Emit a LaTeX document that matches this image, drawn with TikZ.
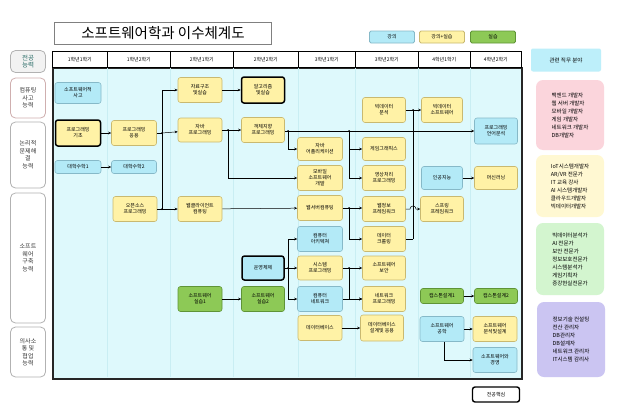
\documentclass[tikz,border=0pt]{standalone}
\usepackage{fontspec}
\setmainfont{Noto Sans CJK KR}
\usetikzlibrary{arrows.meta}
\definecolor{lecF}{HTML}{B3EAF7}
\definecolor{lecD}{HTML}{86B9C8}
\definecolor{labF}{HTML}{FFF2A6}
\definecolor{labD}{HTML}{C9B970}
\definecolor{prF}{HTML}{8DC956}
\definecolor{prD}{HTML}{5F9436}
\definecolor{panelF}{HTML}{DEF9FC}
\definecolor{stripe}{HTML}{C9EEF3}
\definecolor{jobB}{HTML}{BDEFFA}
\definecolor{jobP}{HTML}{FBD5DC}
\definecolor{jobY}{HTML}{FFF8D2}
\definecolor{jobG}{HTML}{D3F5CF}
\definecolor{jobV}{HTML}{CBC5F2}
\definecolor{capT}{HTML}{2E6F6A}
\begin{document}
\begin{tikzpicture}[x=1pt,y=-1pt,
  box/.style={rounded corners=2.5pt, minimum width=44pt, minimum height=25pt, inner sep=0.5pt, align=center, font=\fontsize{5}{6}\selectfont, line width=0.6pt},
  lec/.style={box, fill=lecF, draw=lecD},
  lab/.style={box, fill=labF, draw=labD},
  prac/.style={box, fill=prF, draw=prD},
  core/.style={draw=black, line width=1.5pt},
  arr/.style={-{Stealth[length=3pt,width=2.6pt]}, line width=0.5pt},
  ln/.style={line width=0.5pt},
  hdr/.style={draw=black, line width=0.6pt, fill=white, minimum height=16pt, inner sep=0pt, font=\fontsize{5}{6}\selectfont, anchor=north west},
  abil/.style={draw=gray!60, rounded corners=5pt, line width=0.8pt, fill=white, align=center, inner sep=0pt, minimum width=35pt, font=\fontsize{6}{7.5}\selectfont, text=black!80},
  job/.style={rounded corners=7pt, align=left, inner sep=0pt, minimum width=68pt, font=\fontsize{5.5}{8}\selectfont},
  leg/.style={rounded corners=1.5pt, minimum width=45pt, minimum height=12pt, inner sep=0pt, font=\fontsize{5}{6}\selectfont, line width=0.8pt}
]
\useasboundingbox (0,0) rectangle (617,407);
\fill[white] (0,0) rectangle (617,407);

% title
\node[draw=gray, line width=1.8pt, minimum width=217pt, minimum height=22pt, inner sep=0pt, font=\fontsize{14.5}{16}\selectfont] (title) at (163,33.5) {소프트웨어학과 이수체계도};

% legend
\node[leg, fill=lecF, draw=lecD] (lg1) at (392,37) {강의};
\node[leg, fill=labF, draw=labD] (lg2) at (442,37) {강의+실습};
\node[leg, fill=prF, draw=prD] (lg3) at (493,37) {실습};

% panel
\node[draw=black!85, line width=1.6pt, fill=panelF, minimum width=469pt, minimum height=311pt, inner sep=0pt, anchor=north west] (panel) at (52,67) {};
\foreach \xx in {107,170,233,298,355,418,470} \draw[stripe, line width=1pt] (\xx,68) -- (\xx,377);

% header
\node[hdr, minimum width=55pt] (h1) at (52,51) {1학년1학기};
\node[hdr, minimum width=63pt] (h2) at (107,51) {1학년2학기};
\node[hdr, minimum width=63pt] (h3) at (170,51) {2학년1학기};
\node[hdr, minimum width=65pt] (h4) at (233,51) {2학년2학기};
\node[hdr, minimum width=57pt] (h5) at (298,51) {3학년1학기};
\node[hdr, minimum width=63pt] (h6) at (355,51) {3학년2학기};
\node[hdr, minimum width=52pt] (h7) at (418,51) {4학년1학기};
\node[hdr, minimum width=51pt] (h8) at (470,51) {4학년2학기};

% abilities
\node[abil, fill=black!5, minimum height=22pt, text=capT, font=\fontsize{6.5}{7.5}\selectfont] (ab0) at (28,61.5) {전공\\능력};
\node[abil, draw=red!25!gray!50, minimum height=40pt] (ab1) at (28,98) {컴퓨팅\\사고\\능력};
\node[abil, minimum height=66pt] (ab2) at (28,155) {논리적\\문제해\\결\\능력};
\node[abil, minimum height=130pt] (ab3) at (28,258) {소프트\\웨어\\구축\\능력};
\node[abil, minimum height=50pt] (ab4) at (28,352) {의사소\\통 및\\협업\\능력};

% jobs
\node[job, fill=jobB, rounded corners=2pt, minimum width=70pt, minimum height=23pt, align=center] (jt) at (566,60) {관련 직무 분야};
\node[job, fill=jobP, minimum height=70pt] (jp1) at (570,115) {백엔드 개발자\\웹 서버 개발자\\모바일 개발자\\게임 개발자\\네트워크 개발자\\DB개발자};
\node[job, fill=jobY, minimum height=62pt] (jp2) at (570,186) {IoT시스템개발자\\AR/VR 전문가\\IT 교육 강사\\AI 시스템개발자\\클라우드개발자\\빅데이터개발자};
\node[job, fill=jobG, minimum height=72pt] (jp3) at (570,259) {빅데이터분석가\\AI 전문가\\보안 전문가\\정보보호전문가\\시스템분석가\\게임기획자\\증강현실전문가};
\node[job, fill=jobV, minimum height=75pt] (jp4) at (571,339.5) {정보기술 컨설팅\\전산 관리자\\DB관리자\\DB설계자\\네트워크 관리자\\IT시스템 감리사};

% core legend
\node[box, draw=black, line width=1.4pt, fill=white, minimum width=47pt, minimum height=15pt] (kc) at (496,394.5) {전공핵심};

% column 1
\node[lec, minimum width=46pt, minimum height=21pt] (sw) at (78,93) {소프트웨어적\\사고};
\node[lab, core, minimum width=45pt, minimum height=26pt] (pb) at (78,133) {프로그래밍\\기초};
\node[lec, minimum width=46pt, minimum height=13pt] (m1) at (78,167) {대학수학1};
% column 2
\node[lab, minimum width=45pt] (pa) at (134,133) {프로그래밍\\응용};
\node[lec, minimum width=45pt, minimum height=13pt] (m2) at (134,167) {대학수학2};
\node[lab, minimum width=44pt] (os) at (135,209) {오픈소스\\프로그래밍};
% column 3
\node[lab] (ds) at (200,90) {자료구조\\및실습};
\node[lab, minimum height=24pt] (jv) at (200,130) {자바\\프로그래밍};
\node[lab] (wc) at (200,209) {웹클라이언트\\컴퓨팅};
\node[prac] (s1) at (200,299) {소프트웨어\\실습1};
% column 4
\node[lab, core, minimum width=43pt, minimum height=26pt] (al) at (263,90) {알고리즘\\및실습};
\node[lab, minimum width=43pt] (oo) at (263,130) {객체지향\\프로그래밍};
\node[lec, core, minimum width=42pt, minimum height=24pt] (op) at (263,268) {운영체제};
\node[prac, minimum width=43pt] (s2) at (263,299) {소프트웨어\\실습2};
% column 5
\node[lab, minimum width=45pt, minimum height=23pt] (ja) at (320,149) {자바\\어플리케이션};
\node[lab, minimum width=45pt] (mb) at (320,178) {모바일\\소프트웨어\\개발};
\node[lab, minimum width=45pt] (ws) at (320,208) {웹서버컴퓨팅};
\node[lec, minimum width=45pt] (ca) at (320,239) {컴퓨터\\아키텍쳐};
\node[lab, minimum width=45pt, minimum height=24pt] (sp) at (320,268) {시스템\\프로그래밍};
\node[lec, minimum width=45pt] (cn) at (320,299) {컴퓨터\\네트워크};
\node[lab, minimum width=44pt] (db) at (320,328) {데이터베이스};
% column 6
\node[lab, minimum width=43pt] (ba) at (384,110) {빅데이터\\분석};
\node[lab, minimum width=43pt, minimum height=23pt] (gg) at (384,149) {게임그래픽스};
\node[lab, minimum width=43pt] (ip) at (384,178) {영상처리\\프로그래밍};
\node[lab, minimum width=43pt] (wi) at (384,209) {웹정보\\프레임워크};
\node[lab, minimum width=43pt] (cr) at (384,239) {데이터\\크롤링};
\node[lab, minimum width=43pt, minimum height=24pt] (sc) at (384,268) {소프트웨어\\보안};
\node[lab, minimum width=43pt] (np) at (384,299) {네트워크\\프로그래밍};
\node[lab, minimum width=43pt, minimum height=26pt] (dd) at (382,328) {데이터베이스\\설계및 응용};
% column 7
\node[lab, minimum width=41pt] (bs) at (442,110) {빅데이터\\소프트웨어};
\node[lec, minimum width=41pt, minimum height=23pt] (ai) at (442,178) {인공지능};
\node[lab, minimum width=43pt] (sf) at (442,209) {스프링\\프레임워크};
\node[prac, minimum width=43pt, minimum height=15pt] (c1) at (442,296) {캡스톤설계1};
\node[lec, minimum width=44pt] (se) at (442,329) {소프트웨어\\공학};
% column 8
\node[lec, minimum width=43pt, minimum height=26pt] (pl) at (496,131) {프로그래밍\\언어분석};
\node[lab, minimum width=43pt, minimum height=23pt] (ml) at (496,178) {머신러닝};
\node[prac, minimum width=43pt, minimum height=15pt] (c2) at (496,296) {캡스톤설계2};
\node[lab, minimum width=44pt] (sd) at (495,329) {소프트웨어\\분석및설계};
\node[lec, minimum width=44pt] (sm) at (495,360) {소프트웨어와\\경영};

% junctions
\coordinate (j1) at (162,133);
\coordinate (j2) at (162,209);
\coordinate (j3) at (228,130);
\coordinate (j4) at (288,131);
\coordinate (j5) at (349,131);
\coordinate (j6) at (349,208);
\coordinate (j7) at (288,268);
\coordinate (j8) at (349,268);
\coordinate (j9) at (413,110);
\coordinate (j10) at (413,239);
\coordinate (j11) at (444,360);
\coordinate (hop) at (410,209);

% connectors
\draw[arr] (pb) -- (pa);
\draw[arr] (m1) -- (m2);
\draw[ln] (pa) -- (j1);
\draw[arr] (j1) -- (jv);
\draw[arr] (j1) |- (ds);
\draw[ln] (j1) -- (j2);
\draw[ln] (os) -- (j2);
\draw[arr] (j2) -- (wc);
\draw[arr] (ds) -- (al);
\draw[ln] (jv) -- (j3);
\draw[arr] (j3) -- (oo);
\draw[arr] (j3) |- (mb);
\draw[ln] (oo.east |- j4) -- (j4);
\draw[arr] (j4) |- (ja);
\draw[ln] (j4) -- (j5);
\draw[arr] (j5) |- (gg);
\draw[arr] (j5) |- (ip);
\draw[arr] (j5) -- (pl.west |- j5);
\draw[arr] (wc) -- (ws);
\draw[ln] (ws) -- (j6);
\draw[arr] (j6) -- (wi.west |- j6);
\draw[arr] (j6) |- (cr);
\draw[ln] (op) -- (j7);
\draw[arr] (j7) -- (sp);
\draw[arr] (j7) |- (ca);
\draw[arr] (j7) |- (cn);
\draw[arr] (s1) -- (s2);
\draw[ln] (sp) -- (j8);
\draw[arr] (j8) -- (sc);
\draw[arr] (j8) |- (np);
\draw[arr] (cn) -- (np);
\draw[arr] (db) -- (dd);
\draw[ln] (ba) -- (j9);
\draw[arr] (j9) -- (bs);
\draw[ln] (cr) -- (j10);
\draw[ln] (j10) -- (j9);
\draw[arr] (wi) -- (hop) arc[start angle=180, end angle=0, radius=3pt] -- (sf);
\draw[arr] (ai) -- (ml);
\draw[arr] (c1) -- (c2);
\draw[arr] (se) -- (sd);
\draw[ln] (se.south -| j11) -- (j11);
\draw[arr] (j11) -- (sm);

\foreach \j in {j1,j2,j3,j4,j5,j6,j7,j8,j9} \fill (\j) circle (1pt);
\end{tikzpicture}
\end{document}
